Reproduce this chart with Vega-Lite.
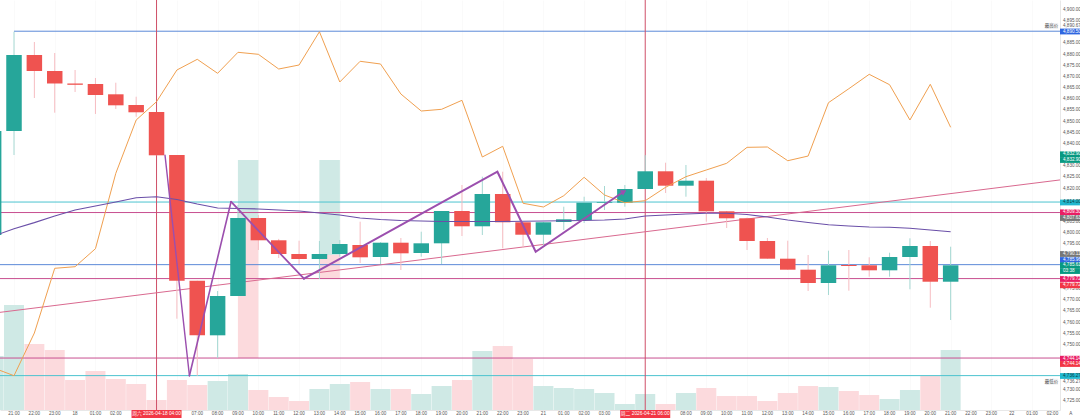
{"$schema":"https://vega.github.io/schema/vega-lite/v6.json","width":1060,"height":410,"autosize":{"type":"none"},"padding":{"left":0,"top":0,"right":20,"bottom":8},"background":"#ffffff","config":{"view":{"stroke":null},"font":"Liberation Sans, Noto Sans CJK SC","scale":{"continuousPadding":0},"axis":{"title":null,"labels":false,"tickSize":0,"domainColor":"#e8e8e8","grid":true,"gridColor":"#fafafa"}},
"datasets":{"bars":[
{"i":-1,"open":4799.24,"high":4845.81,"low":4799.24,"close":4845.81,"volume":54,"slow":4739.68,"ma":4798.79},
{"i":0,"open":4845.81,"high":4890.28,"low":4835.07,"close":4879.85,"volume":105,"slow":4736.23,"ma":4802.06},
{"i":1,"open":4879.85,"high":4885.67,"low":4860.59,"close":4872.68,"volume":66,"slow":4755.35,"ma":4804.79},
{"i":2,"open":4872.68,"high":4880.74,"low":4854.01,"close":4867.09,"volume":60,"slow":4784.33,"ma":4807.75},
{"i":3,"open":4867.09,"high":4873.13,"low":4863.28,"close":4866.5,"volume":30,"slow":4785.04,"ma":4810.43},
{"i":4,"open":4866.86,"high":4869.55,"low":4853.43,"close":4861.94,"volume":39,"slow":4793.1,"ma":4812.23},
{"i":5,"open":4862.25,"high":4867.44,"low":4855.67,"close":4857.32,"volume":31,"slow":4826.87,"ma":4814},
{"i":6,"open":4857.46,"high":4861.17,"low":4852.22,"close":4854.19,"volume":26,"slow":4850.74,"ma":4815.95},
{"i":7,"open":4854.32,"high":4854.32,"low":4834.93,"close":4834.93,"volume":10,"slow":4858.94,"ma":4816.4},
{"i":8,"open":4835.07,"high":4835.07,"low":4761.76,"close":4778.77,"volume":30,"slow":4873.13,"ma":4815.14},
{"i":9,"open":4778.77,"high":4778.77,"low":4736.23,"close":4754.32,"volume":25,"slow":4877.92,"ma":4813.1},
{"i":10,"open":4754.32,"high":4774.16,"low":4744.16,"close":4771.92,"volume":29,"slow":4871.65,"ma":4811.33},
{"i":11,"open":4771.92,"high":4812.67,"low":4771.92,"close":4806.85,"volume":36,"slow":4881.06,"ma":4811.1},
{"i":12,"open":4806.85,"high":4808.2,"low":4792.52,"close":4796.87,"volume":20,"slow":4880.16,"ma":4810.9},
{"i":13,"open":4796.87,"high":4797.5,"low":4788.94,"close":4790.73,"volume":13,"slow":4873.58,"ma":4810.43},
{"i":14,"open":4790.73,"high":4796.69,"low":4786.25,"close":4788.49,"volume":9,"slow":4875.37,"ma":4810},
{"i":15,"open":4788.49,"high":4796.56,"low":4779.53,"close":4790.73,"volume":21,"slow":4890.28,"ma":4809.1},
{"i":16,"open":4790.73,"high":4797,"low":4789.5,"close":4795.21,"volume":26,"slow":4867.76,"ma":4808.2},
{"i":17,"open":4794.76,"high":4805.2,"low":4786.7,"close":4789.25,"volume":28,"slow":4877.03,"ma":4806.85},
{"i":18,"open":4789.39,"high":4796,"low":4786.25,"close":4795.79,"volume":21,"slow":4875.82,"ma":4806.18},
{"i":19,"open":4795.79,"high":4797.9,"low":4783.57,"close":4791.04,"volume":21,"slow":4862.38,"ma":4805.73},
{"i":20,"open":4791.18,"high":4800.72,"low":4789.52,"close":4795.52,"volume":16,"slow":4854.77,"ma":4805.51},
{"i":21,"open":4795.52,"high":4810,"low":4786.25,"close":4809.99,"volume":24,"slow":4855.53,"ma":4805.29},
{"i":22,"open":4809.99,"high":4821.63,"low":4798.79,"close":4803.14,"volume":30,"slow":4859.56,"ma":4805.29},
{"i":23,"open":4803.14,"high":4825.35,"low":4799.24,"close":4817.6,"volume":59,"slow":4834.17,"ma":4805.29},
{"i":24,"open":4817.6,"high":4827.59,"low":4793.28,"close":4804.93,"volume":64,"slow":4838.96,"ma":4805.29},
{"i":25,"open":4804.93,"high":4805,"low":4793.42,"close":4799.37,"volume":51,"slow":4813.44,"ma":4805.38},
{"i":26,"open":4799.37,"high":4805,"low":4794.76,"close":4804.93,"volume":24,"slow":4811.78,"ma":4805.51},
{"i":27,"open":4805.06,"high":4811.91,"low":4801.48,"close":4806.27,"volume":22,"slow":4816.84,"ma":4805.64},
{"i":28,"open":4805.96,"high":4816.39,"low":4804.61,"close":4813.7,"volume":21,"slow":4825.08,"ma":4805.73},
{"i":29,"open":4813.7,"high":4821.18,"low":4810.43,"close":4814.02,"volume":17,"slow":4817.15,"ma":4805.96},
{"i":30,"open":4813.7,"high":4821.63,"low":4811.91,"close":4819.84,"volume":6,"slow":4813.7,"ma":4806.41},
{"i":31,"open":4819.84,"high":4835,"low":4819.84,"close":4827.77,"volume":16,"slow":4814.6,"ma":4807.75},
{"i":32,"open":4827.77,"high":4831.62,"low":4818.05,"close":4821.32,"volume":6,"slow":4820.6,"ma":4808.2},
{"i":33,"open":4821.32,"high":4830.59,"low":4816.39,"close":4823.56,"volume":17,"slow":4825.35,"ma":4808.65},
{"i":34,"open":4823.56,"high":4824.77,"low":4805.2,"close":4809.85,"volume":22,"slow":4828.35,"ma":4808.96},
{"i":35,"open":4809.85,"high":4810,"low":4802.38,"close":4806.72,"volume":14,"slow":4831.35,"ma":4808.96},
{"i":36,"open":4806.72,"high":4807,"low":4792.52,"close":4796.56,"volume":14,"slow":4838.5,"ma":4808.42},
{"i":37,"open":4796.56,"high":4797.9,"low":4788.63,"close":4788.63,"volume":9,"slow":4838.65,"ma":4807.3},
{"i":38,"open":4788.63,"high":4796.69,"low":4783.7,"close":4783.7,"volume":17,"slow":4832.5,"ma":4805.96},
{"i":39,"open":4783.7,"high":4790.28,"low":4774.16,"close":4777.74,"volume":24,"slow":4834.6,"ma":4804.84},
{"i":40,"open":4777.74,"high":4792.21,"low":4772.37,"close":4785.67,"volume":23,"slow":4858.5,"ma":4803.85},
{"i":41,"open":4785.8,"high":4792.52,"low":4774.3,"close":4785.36,"volume":19,"slow":4864.76,"ma":4803.27},
{"i":42,"open":4785.67,"high":4789.25,"low":4780.56,"close":4783.43,"volume":15,"slow":4871.2,"ma":4802.82},
{"i":43,"open":4783.43,"high":4791.31,"low":4780.56,"close":4789.39,"volume":11,"slow":4866.55,"ma":4802.69},
{"i":44,"open":4789.39,"high":4797.76,"low":4774.92,"close":4794.31,"volume":20,"slow":4850.74,"ma":4802.24},
{"i":45,"open":4794.31,"high":4796.56,"low":4766.68,"close":4778.32,"volume":34,"slow":4866.73,"ma":4801.48},
{"i":46,"open":4778.32,"high":4794,"low":4761.17,"close":4785.67,"volume":60,"slow":4847.47,"ma":4800.72}
],
"boxes":[{"i":11.5,"top":4832.83,"bottom":4806.85,"side":"profit"},{"i":11.5,"top":4806.85,"bottom":4744.16,"side":"loss"},{"i":15.5,"top":4832.83,"bottom":4790.28,"side":"profit"},{"i":15.5,"top":4790.28,"bottom":4779.53,"side":"loss"}],
"levels":[{"price":4890.5,"start":0,"kind":"blue"},{"price":4814,"start":-0.69,"kind":"cyan"},{"price":4809.3,"start":-0.69,"kind":"pink"},{"price":4785.96,"start":-0.69,"kind":"blue"},{"price":4779.72,"start":-0.69,"kind":"pink"},{"price":4744.14,"start":-0.69,"kind":"pink"},{"price":4736.27,"start":-0.69,"kind":"cyan"}],
"trend":[{"i":-0.69,"price":4764.6},{"i":51.37,"price":4823.9}],
"zig":[{"i":7.417,"price":4834.93,"leg":"a"},{"i":8.615,"price":4736.23,"leg":"a"},{"i":8.615,"price":4736.23,"leg":"b"},{"i":10.658,"price":4814.15,"leg":"b"},{"i":10.658,"price":4814.15,"leg":"c"},{"i":14.24,"price":4779.67,"leg":"c"},{"i":14.24,"price":4779.67,"leg":"d"},{"i":23.74,"price":4827.59,"leg":"d"},{"i":25.62,"price":4791.76,"leg":"d"},{"i":29.9,"price":4818.4,"leg":"d"}],
"arrow":[{"i":29.95,"price":4818.7}],
"cross":[{"i":7,"label":"周六 2026-04-18   04:00"},{"i":31,"label":"周二 2026-04-21   06:00"}],
"tags":[{"price":4890.37,"text":"4,890.50","kind":"blue"},{"price":4835.38,"text":"4,832.90","kind":"green"},{"price":4832.83,"text":"4,832.90","kind":"green"},{"price":4813.8,"text":"4,814.00","kind":"cyan"},{"price":4809.4,"text":"4,809.30","kind":"pink"},{"price":4806.85,"text":"4,807.63","kind":"grey"},{"price":4790.73,"text":"4,790.11","kind":"grey"},{"price":4788.04,"text":"4,785.96","kind":"blue"},{"price":4785.67,"text":"4,785.61","kind":"green"},{"price":4783.1,"text":"03:38","kind":"green"},{"price":4779.53,"text":"4,779.72","kind":"pink"},{"price":4776.71,"text":"4,779.72","kind":"red"},{"price":4743.84,"text":"4,744.14","kind":"pink"},{"price":4741.47,"text":"4,744.14","kind":"red"},{"price":4736.1,"text":"4,736.27","kind":"cyan"}],
"notes":[{"price":4892.83,"text":"4,890.67"},{"price":4733.55,"text":"4,736.27"}],
"marks":[{"i":50.95,"price":4892.83,"text":"最高价"},{"i":50.95,"price":4733.55,"text":"最低价"}],
"xticks":[{"i":0,"text":"21:00"},{"i":1,"text":"22:00"},{"i":2,"text":"23:00"},{"i":3,"text":"18"},{"i":4,"text":"01:00"},{"i":5,"text":"02:00"},{"i":9,"text":"07:00"},{"i":10,"text":"08:00"},{"i":11,"text":"09:00"},{"i":12,"text":"10:00"},{"i":13,"text":"11:00"},{"i":14,"text":"12:00"},{"i":15,"text":"13:00"},{"i":16,"text":"14:00"},{"i":17,"text":"15:00"},{"i":18,"text":"16:00"},{"i":19,"text":"17:00"},{"i":20,"text":"18:00"},{"i":21,"text":"19:00"},{"i":22,"text":"20:00"},{"i":23,"text":"21:00"},{"i":24,"text":"22:00"},{"i":25,"text":"23:00"},{"i":26,"text":"21"},{"i":27,"text":"01:00"},{"i":28,"text":"02:00"},{"i":29,"text":"03:00"},{"i":33,"text":"08:00"},{"i":34,"text":"09:00"},{"i":35,"text":"10:00"},{"i":36,"text":"11:00"},{"i":37,"text":"12:00"},{"i":38,"text":"13:00"},{"i":39,"text":"14:00"},{"i":40,"text":"15:00"},{"i":41,"text":"16:00"},{"i":42,"text":"17:00"},{"i":43,"text":"18:00"},{"i":44,"text":"19:00"},{"i":45,"text":"20:00"},{"i":46,"text":"21:00"},{"i":47,"text":"22:00"},{"i":48,"text":"23:00"},{"i":49,"text":"22"},{"i":50,"text":"01:00"},{"i":51,"text":"02:00"},{"i":51.9,"text":"A"}],
"yticks":[{"price":4725},{"price":4730},{"price":4750},{"price":4755},{"price":4760},{"price":4765},{"price":4770},{"price":4775},{"price":4795},{"price":4800},{"price":4805},{"price":4820},{"price":4825},{"price":4830},{"price":4840},{"price":4845},{"price":4850},{"price":4855},{"price":4860},{"price":4865},{"price":4870},{"price":4875},{"price":4880},{"price":4885},{"price":4895},{"price":4900}]
},
"layer":[
{"data":{"name":"bars"},"mark":{"type":"bar","size":20,"clip":true},"encoding":{
"x":{"field":"i","type":"quantitative","scale":{"domain":[-0.6876,51.37],"nice":false,"zero":false,"padding":0},"axis":{"values":[0,1,2,3,4,5,6,7,8,9,10,11,12,13,14,15,16,17,18,19,20,21,22,23,24,25,26,27,28,29,30,31,32,33,34,35,36,37,38,39,40,41,42,43,44,45,46,47,48,49,50,51]}},
"y":{"field":"volume","type":"quantitative","scale":{"domain":[0,410],"nice":false,"zero":false},"axis":null},
"color":{"condition":{"test":"datum.close>datum.open","value":"#cfe9e5"},"value":"#fcdadd"}}},
{"layer":[
{"data":{"name":"boxes"},"mark":{"type":"bar","size":20.5,"clip":true},"encoding":{"x":{"field":"i","type":"quantitative","scale":{"domain":[-0.6876,51.37],"nice":false,"zero":false,"padding":0}},
"y":{"field":"top","type":"quantitative","scale":{"domain":[4720.87,4904.48],"nice":false,"zero":false},"axis":{"orient":"right","values":[4725,4730,4735,4740,4745,4750,4755,4760,4765,4770,4775,4780,4785,4790,4795,4800,4805,4810,4815,4820,4825,4830,4835,4840,4845,4850,4855,4860,4865,4870,4875,4880,4885,4890,4895,4900]}},
"y2":{"field":"bottom"},
"color":{"field":"side","type":"nominal","scale":{"domain":["profit","loss"],"range":["#cfe9e5","#fcdadd"]},"legend":null}}},
{"data":{"name":"levels"},"mark":{"type":"rule","strokeWidth":1,"clip":true},"encoding":{"x":{"field":"start","type":"quantitative","scale":{"domain":[-0.6876,51.37],"nice":false,"zero":false}},"x2":{"datum":51.37},"y":{"field":"price","type":"quantitative"},
"color":{"field":"kind","type":"nominal","scale":{"domain":["blue","cyan","pink"],"range":["#5b8ad8","#4cc3cf","#c84f90"]},"legend":null}}},
{"data":{"name":"cross"},"mark":{"type":"rule","strokeWidth":1,"color":"#cf5068"},"encoding":{"x":{"field":"i","type":"quantitative","scale":{"domain":[-0.6876,51.37],"nice":false,"zero":false}}}},
{"data":{"name":"trend"},"mark":{"type":"line","strokeWidth":1,"color":"#d9698f","clip":true},"encoding":{"x":{"field":"i","type":"quantitative","scale":{"domain":[-0.6876,51.37],"nice":false,"zero":false}},"y":{"field":"price","type":"quantitative"}}},
{"data":{"name":"bars"},"mark":{"type":"rule","strokeWidth":1,"clip":true},"encoding":{"x":{"field":"i","type":"quantitative"},"y":{"field":"low","type":"quantitative"},"y2":{"field":"high"},
"color":{"condition":{"test":"datum.close>datum.open","value":"#a5d8d2"},"value":"#f6bcc1"}}},
{"data":{"name":"bars"},"mark":{"type":"bar","size":15.5,"clip":true},"encoding":{"x":{"field":"i","type":"quantitative"},"y":{"field":"open","type":"quantitative"},"y2":{"field":"close"},
"color":{"condition":{"test":"datum.close>datum.open","value":"#26a69a"},"value":"#ef5350"}}},
{"data":{"name":"bars"},"mark":{"type":"line","strokeWidth":1,"color":"#f0a050","clip":true},"encoding":{"x":{"field":"i","type":"quantitative"},"y":{"field":"slow","type":"quantitative"}}},
{"data":{"name":"bars"},"mark":{"type":"line","strokeWidth":1.1,"color":"#6a4fa8","clip":true},"encoding":{"x":{"field":"i","type":"quantitative"},"y":{"field":"ma","type":"quantitative"}}},
{"data":{"name":"zig"},"mark":{"type":"line","color":"#9b4fae","strokeCap":"round","strokeJoin":"miter"},"encoding":{"x":{"field":"i","type":"quantitative"},"y":{"field":"price","type":"quantitative"},"detail":{"field":"leg"},
"strokeWidth":{"field":"leg","type":"nominal","scale":{"domain":["a","b","c","d"],"range":[1.4,2,2.8,3.8]},"legend":null}}},
{"data":{"name":"arrow"},"mark":{"type":"point","shape":"triangle-up","filled":true,"size":40,"angle":60,"opacity":1,"color":"#9b4fae"},"encoding":{"x":{"field":"i","type":"quantitative"},"y":{"field":"price","type":"quantitative"}}},
{"data":{"name":"cross"},"mark":{"type":"bar","size":50,"color":"#f23645"},"encoding":{"x":{"field":"i","type":"quantitative"},"y":{"datum":4720.87,"type":"quantitative"},"y2":{"datum":4717.2}}},
{"data":{"name":"cross"},"mark":{"type":"text","fontSize":4.8,"color":"#ffffff","baseline":"middle"},"encoding":{"x":{"field":"i","type":"quantitative"},"y":{"datum":4719,"type":"quantitative"},"text":{"field":"label"}}},
{"data":{"name":"xticks"},"mark":{"type":"text","fontSize":4.6,"color":"#555555","baseline":"middle"},"encoding":{"x":{"field":"i","type":"quantitative"},"y":{"datum":4718.9,"type":"quantitative"},"text":{"field":"text"}}},
{"data":{"name":"yticks"},"mark":{"type":"text","fontSize":4.6,"color":"#555555","align":"left","baseline":"middle","dx":3},"encoding":{"x":{"datum":51.37,"type":"quantitative"},"y":{"field":"price","type":"quantitative"},"text":{"field":"price","type":"quantitative","format":",.2f"}}},
{"data":{"name":"tags"},"mark":{"type":"rule","strokeWidth":5.8},"encoding":{"x":{"datum":51.37,"type":"quantitative"},"x2":{"datum":52.35},"y":{"field":"price","type":"quantitative"},
"color":{"field":"kind","type":"nominal","scale":{"domain":["blue","green","cyan","pink","grey","red"],"range":["#2f66e0","#089981","#22b8cf","#e91e63","#777777","#f23645"]},"legend":null}}},
{"data":{"name":"tags"},"mark":{"type":"text","fontSize":4.6,"align":"left","baseline":"middle","dx":3},"encoding":{"x":{"datum":51.37,"type":"quantitative"},"y":{"field":"price","type":"quantitative"},"text":{"field":"text"},
"color":{"condition":{"test":"datum.kind==='cyan'","value":"#0b3c44"},"value":"#ffffff"}}},
{"data":{"name":"notes"},"mark":{"type":"text","fontSize":4.6,"align":"left","baseline":"middle","dx":3,"color":"#555555"},"encoding":{"x":{"datum":51.37,"type":"quantitative"},"y":{"field":"price","type":"quantitative"},"text":{"field":"text"}}},
{"data":{"name":"marks"},"mark":{"type":"rule","strokeWidth":6,"color":"#f0f1f3"},"encoding":{"x":{"datum":50.62,"type":"quantitative"},"x2":{"datum":51.28},"y":{"field":"price","type":"quantitative"}}},
{"data":{"name":"marks"},"mark":{"type":"text","fontSize":4.4,"baseline":"middle","color":"#555555"},"encoding":{"x":{"field":"i","type":"quantitative"},"y":{"field":"price","type":"quantitative"},"text":{"field":"text"}}}
],"resolve":{"scale":{"color":"independent"}}}
],"resolve":{"scale":{"y":"independent"}}}
